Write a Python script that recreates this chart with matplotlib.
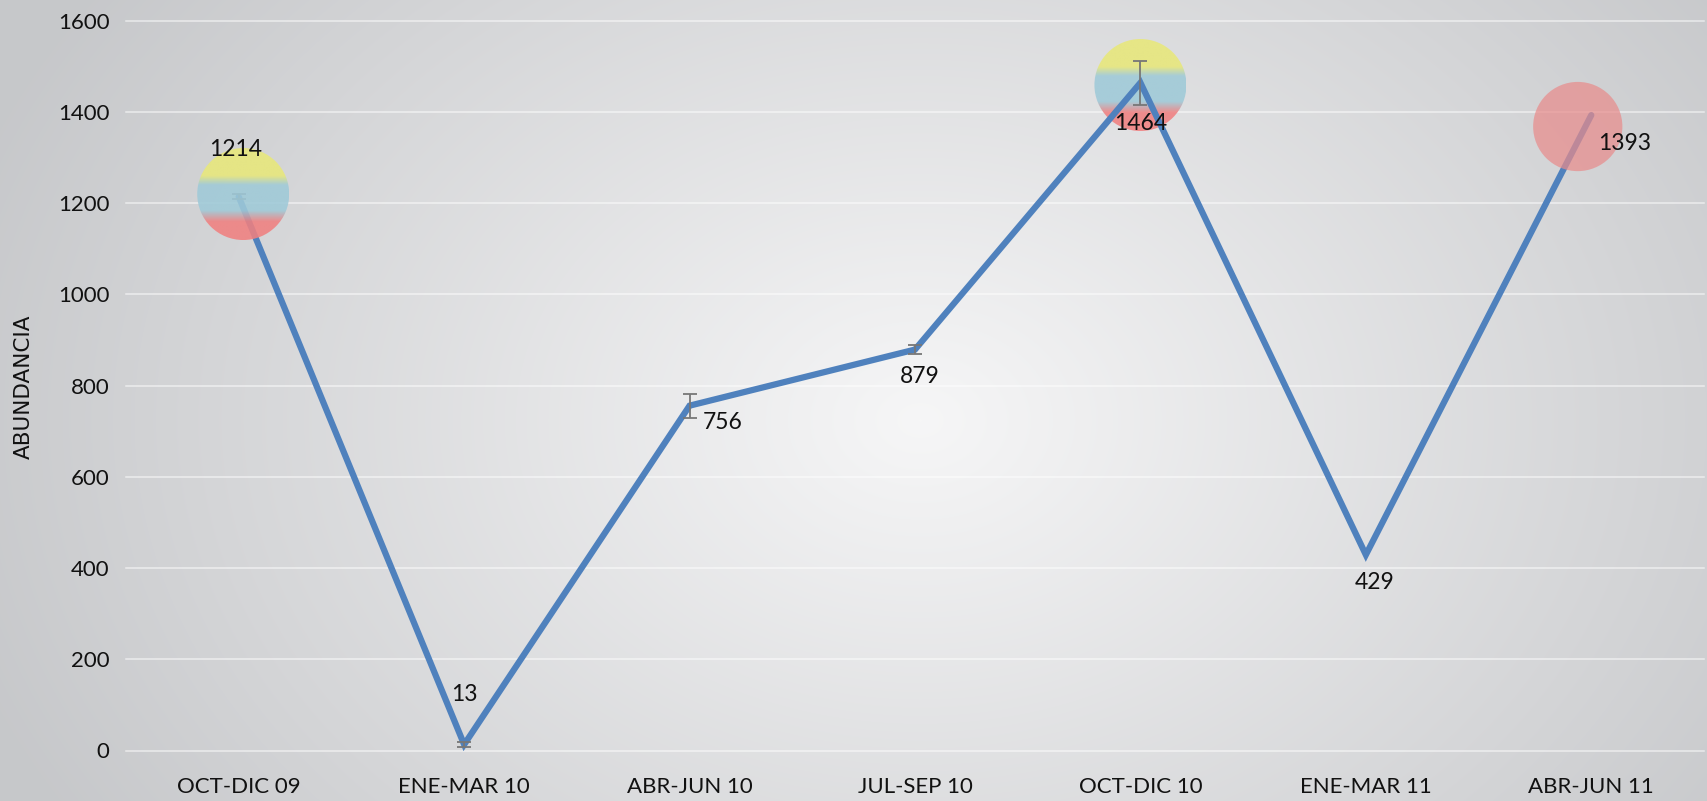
import numpy as np
import matplotlib
matplotlib.use("Agg")
import matplotlib.pyplot as plt
from matplotlib.patches import Ellipse
from matplotlib.colors import to_rgb

categories = ["OCT-DIC 09", "ENE-MAR 10", "ABR-JUN 10", "JUL-SEP 10", "OCT-DIC 10", "ENE-MAR 11", "ABR-JUN 11"]
values = [1214, 13, 756, 879, 1464, 429, 1393]
errors = [5, 6, 26, 10, 48, 0, 0]
yticks = [0, 200, 400, 600, 800, 1000, 1200, 1400, 1600]
# bubbles: (category index, value, kind)
bubble_x = [0.02, 4.0, 5.94]
bubble_y = [1220, 1459, 1368]
bubble_kind = ["flag", "flag", "pink"]
bubble_on_top = [True, False, True]
label_offsets = [(-3, 47), (0, 50), (33, -17), (5, -27), (0, -41), (9, -28), (33, -28)]

W, H, DPI = 1708, 801, 100
fig = plt.figure(figsize=(W / DPI, H / DPI), dpi=DPI)

# radial gradient background
bg = fig.add_axes([0, 0, 1, 1], zorder=-10)
yy, xx = np.mgrid[0:H, 0:W]
cx, cy = 920, 420
r = np.sqrt(((xx - cx) / 1.0) ** 2 + ((yy - cy) / 0.75) ** 2)
r = np.clip(r / 1000.0, 0, 1)
c_in = np.array([0.965, 0.965, 0.968])
c_out = np.array([0.78, 0.785, 0.795])
img = c_in[None, None, :] * (1 - r[..., None]) + c_out[None, None, :] * r[..., None]
bg.imshow(img, aspect="auto", extent=[0, 1, 0, 1])
bg.axis("off")

ax = fig.add_axes([126 / W, (H - 750.5) / H, 1578 / W, (750.5 - 20.7) / H])
ax.patch.set_alpha(0)
ax.set_xlim(-0.5, 6.5)
ax.set_ylim(0, 1600)
ax.set_yticks(yticks)
ax.set_xticks(range(len(categories)))
ax.set_xticklabels(categories)
for s in ax.spines.values():
    s.set_visible(False)
ax.tick_params(length=0, labelsize=16, colors="#111111")
ax.tick_params(axis="x", pad=19)
ax.tick_params(axis="y", pad=12)
for lbl in ax.get_xticklabels() + ax.get_yticklabels():
    lbl.set_fontfamily(["Lato", "DejaVu Sans"])
ax.grid(axis="y", color="white", alpha=0.6, lw=1.1)
for gl in ax.get_ygridlines():
    gl.set_clip_on(False)
ax.set_axisbelow(True)

x = np.arange(len(values))
err = np.array(errors, dtype=float)
m = err > 0
ax.errorbar(x[m], np.array(values)[m], yerr=err[m], fmt="none", ecolor="#777777",
            elinewidth=1.3, capsize=5, capthick=1.3, zorder=3.5)
ax.plot(x, values, color="#4F81BD", lw=4.5, solid_capstyle="round", solid_joinstyle="miter", zorder=3)

for i, v in enumerate(values):
    ax.annotate(str(v), (x[i], v), xytext=label_offsets[i], textcoords="offset pixels",
                ha="center", va="center", fontsize=16.5, family=["Lato", "DejaVu Sans"], color="#111111", zorder=6)

# bubbles
fig.canvas.draw()
px_per_x = ax.transData.transform((1, 0))[0] - ax.transData.transform((0, 0))[0]
px_per_y = ax.transData.transform((0, 1))[1] - ax.transData.transform((0, 0))[1]
rad = 46
wx = 2 * rad / px_per_x
hy = 2 * rad / px_per_y

yellow = np.array(to_rgb("#e8e87a"))
blue = np.array(to_rgb("#9fcad8"))
red = np.array(to_rgb("#f08080"))
n = 200
t = np.linspace(0, 1, n)  # 0 at top
def smooth(a, b, t):
    return np.clip((t - a) / (b - a), 0, 1)
w1 = smooth(0.30, 0.40, t)
w2 = smooth(0.68, 0.80, t)
col = yellow[None, :] * (1 - w1[:, None]) + blue[None, :] * w1[:, None]
col = col * (1 - w2[:, None]) + red[None, :] * w2[:, None]
grad = np.zeros((n, 2, 4))
grad[..., :3] = col[:, None, :]
grad[..., 3] = 0.88

for bx, by, kind, top in zip(bubble_x, bubble_y, bubble_kind, bubble_on_top):
    z = 4 if top else 2.5
    if kind == "flag":
        el = Ellipse((bx, by), wx, hy, transform=ax.transData, facecolor="none", edgecolor="none")
        ax.add_patch(el)
        im = ax.imshow(grad, extent=[bx - wx / 2, bx + wx / 2, by - hy / 2, by + hy / 2],
                       aspect="auto", zorder=z, interpolation="bilinear")
        im.set_clip_path(el)
    else:
        el = Ellipse((bx, by), wx * 0.97, hy * 0.97, transform=ax.transData,
                     facecolor="#e88c8c", alpha=0.72, edgecolor="none", zorder=z)
        ax.add_patch(el)
ax.set_xlim(-0.5, 6.5)
ax.set_ylim(0, 1600)

fig.text(24 / W, 1 - 387 / H, "ABUNDANCIA", rotation=90, ha="center", va="center",
         fontsize=15.5, family=["Liberation Sans Narrow", "DejaVu Sans"], color="#111111")

fig.savefig("out.png", dpi=DPI)
